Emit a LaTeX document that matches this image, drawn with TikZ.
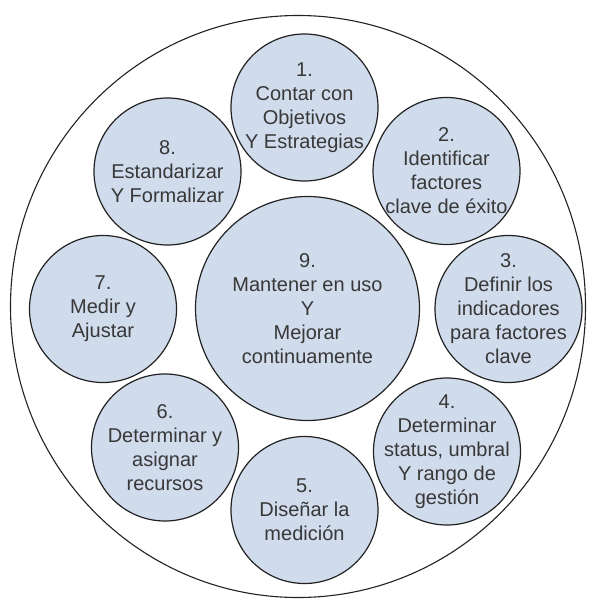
\documentclass[tikz,border=0pt]{standalone}
\usepackage{fontspec}
\setmainfont{Liberation Sans}
\usetikzlibrary{shapes.geometric}
\definecolor{bubblefill}{HTML}{D0DBEC}
\definecolor{bubbleline}{HTML}{222222}
\definecolor{bubbletext}{HTML}{383838}
\tikzset{
  bubble/.style={circle, draw=bubbleline, line width=1.2pt, fill=bubblefill,
                 inner sep=0pt, minimum size=147pt},
  bigbubble/.style={bubble, minimum size=224pt},
  bubbletxt/.style={align=center, text=bubbletext, inner sep=0pt,
                    font=\fontsize{20pt}{24pt}\selectfont},
  frame/.style={ellipse, draw=bubbleline, line width=1.1pt, inner sep=0pt,
                minimum width=575pt, minimum height=582pt}
}
\begin{document}
\begin{tikzpicture}[x=1pt,y=1pt]
  \useasboundingbox (0,0) rectangle (589,-599);
  % enclosing ring
  \node[frame] (ring) at (298,-306.5) {};
  % central step
  \node[bigbubble, label={[bubbletxt]center:9.\\Mantener en uso\\Y\\Mejorar\\continuamente}] (s9) at (307.5,-308.5) {};
  % the eight surrounding steps
  \node[bubble, label={[bubbletxt]center:1.\\Contar con\\Objetivos\\Y Estrategias}] (s1) at (304.5,-107.5) {};
  \node[bubble, label={[bubbletxt]center:2.\\Identificar\\factores\\clave de éxito}] (s2) at (446.5,-171) {};
  \node[bubble, label={[bubbletxt]center:3.\\Definir los\\indicadores\\para factores\\clave}] (s3) at (508.5,-309) {};
  \node[bubble, label={[bubbletxt]center:4.\\Determinar\\status, umbral\\Y rango de\\gestión}] (s4) at (447,-451.5) {};
  \node[bubble, label={[bubbletxt]center:5.\\Diseñar la\\medición}] (s5) at (304.5,-510) {};
  \node[bubble, label={[bubbletxt]center:6.\\Determinar y\\asignar\\recursos}] (s6) at (165,-447.5) {};
  \node[bubble, label={[bubbletxt]center:7.\\Medir y\\Ajustar}] (s7) at (103,-309) {};
  \node[bubble, label={[bubbletxt]center:8.\\Estandarizar\\Y Formalizar}] (s8) at (167.5,-171.5) {};
\end{tikzpicture}
\end{document}
